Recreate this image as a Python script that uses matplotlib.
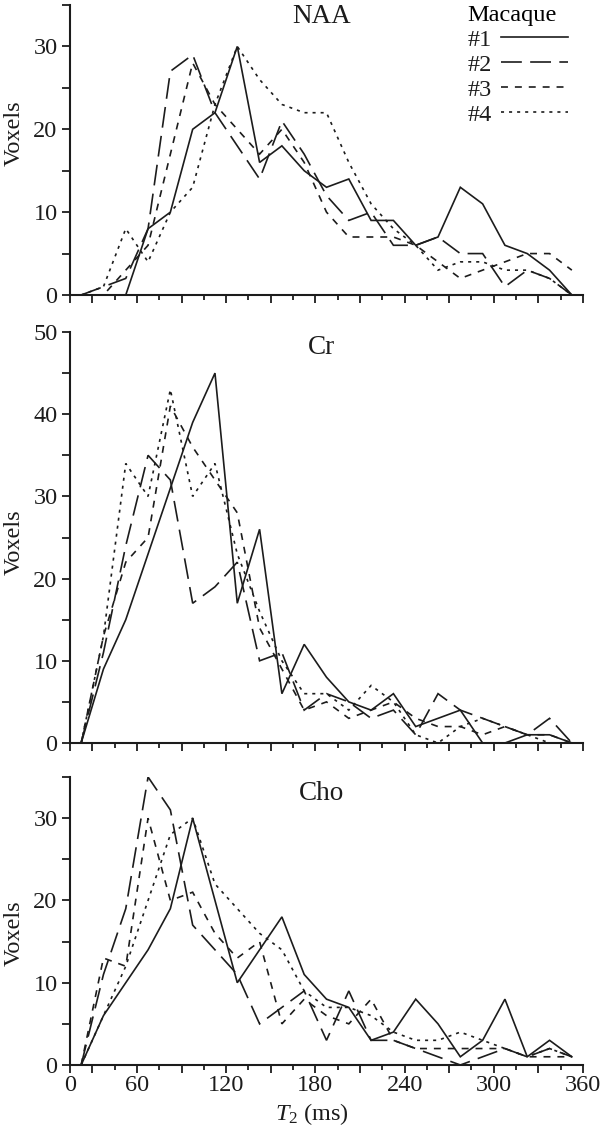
import matplotlib
matplotlib.use('Agg')
import matplotlib.pyplot as plt
from matplotlib.ticker import FixedLocator, MultipleLocator, FixedFormatter

plt.rcParams['font.family'] = ['Liberation Serif', 'DejaVu Serif']
plt.rcParams['mathtext.fontset'] = 'custom'
plt.rcParams['mathtext.rm'] = 'Liberation Serif'
plt.rcParams['mathtext.it'] = 'Liberation Serif:italic'
plt.rcParams['lines.scale_dashes'] = False

# bin centres (ms), axis origin sits at 15 ms
t2 = [22.5, 37.5, 52.5, 67.5, 82.5, 97.5, 112.5, 127.5, 142.5, 157.5, 172.5, 187.5,
      202.5, 217.5, 232.5, 247.5, 262.5, 277.5, 292.5, 307.5, 322.5, 337.5, 352.5]

naa_1 = [0, 0, 0, 8, 10, 20, 22, 30, 16, 18, 15, 13, 14, 9, 9, 6, 7, 13, 11, 6, 5, 3, 0]
naa_2 = [0, 1, 2, 8, 27, 29, 22, 18, 14, 21, 17, 12, 9, 10, 6, 6, 7, 5, 5, 1, 3, 2, 0]
naa_3 = [0, 0, 3, 6, 17, 28, 23, 20, 17, 20, 16, 10, 7, 7, 7, 6, 4, 2, 3, 4, 5, 5, 3]
naa_4 = [0, 1, 8, 4, 10, 13, 23, 30, 26, 23, 22, 22, 16, 11, 8, 6, 3, 4, 4, 3, 3, 2, 0]

cr_1 = [0, 9, 15, 23, 31, 39, 45, 17, 26, 6, 12, 8, 5, 4, 6, 2, 3, 4, 0, 0, 1, 1, 0]
cr_2 = [0, 11, 24, 35, 32, 17, 19, 22, 10, 11, 4, 6, 5, 3, 4, 1, 6, 4, 3, 2, 1, 3, 0]
cr_3 = [0, 13, 22, 25, 41, 36, 32, 28, 14, 9, 4, 5, 3, 4, 5, 3, 2, 2, 1, 2, 1, 1, 0]
cr_4 = [0, 13, 34, 30, 43, 30, 34, 23, 16, 10, 6, 6, 4, 7, 5, 1, 0, 2, 3, 2, 1, 0, 0]

cho_1 = [0, 6, 10, 14, 19, 30, 20, 10, 14, 18, 11, 8, 7, 3, 4, 8, 5, 1, 3, 8, 1, 3, 1]
cho_2 = [0, 11, 19, 35, 31, 17, 14, 11, 5, 7, 9, 3, 9, 3, 3, 2, 1, 0, 1, 2, 1, 2, 1]
cho_3 = [0, 13, 12, 30, 20, 21, 16, 13, 15, 5, 8, 6, 5, 8, 3, 2, 2, 2, 2, 2, 1, 1, 1]
cho_4 = [0, 6, 12, 20, 28, 30, 22, 19, 16, 14, 9, 7, 7, 6, 4, 3, 3, 4, 3, 2, 1, 2, 1]

labels = ['#1', '#2', '#3', '#4']
panels = [('NAA', [naa_1, naa_2, naa_3, naa_4], 35),
          ('Cr', [cr_1, cr_2, cr_3, cr_4], 50),
          ('Cho', [cho_1, cho_2, cho_3, cho_4], 35)]

line_styles = ['-', (0, (15, 6)), (0, (5, 5)), (0, (2.2, 3.6))]
ink = '#1c1c1c'

# axes boxes in pixels of a 600x1135 figure: (top, bottom)
boxes = [(5, 295), (332, 743), (777, 1065)]
W, H = 600, 1135
left, right = 70, 583
title_y = [0.959, 0.963, 0.944]

fig = plt.figure(figsize=(6, 11.35), dpi=100)

for i, (name, series, ytop) in enumerate(panels):
    top, bot = boxes[i]
    ax = fig.add_axes([left / W, (H - bot) / H, (right - left) / W, (bot - top) / H])
    for s, ls, lab in zip(series, line_styles, labels):
        ax.plot(t2, s, color=ink, lw=1.2, linestyle=ls, label=lab,
                solid_joinstyle='miter', dash_joinstyle='miter')

    ax.set_xlim(15, 360)
    ax.set_ylim(0, ytop)
    for side in ['top', 'right']:
        ax.spines[side].set_visible(False)
    for side in ['left', 'bottom']:
        ax.spines[side].set_linewidth(1.5)
        ax.spines[side].set_color(ink)

    ax.yaxis.set_major_locator(MultipleLocator(10))
    ax.yaxis.set_minor_locator(MultipleLocator(5))
    ax.tick_params(axis='y', which='both', direction='out', length=6, width=1.3,
                   colors=ink, labelsize=17.5, pad=3)

    xmaj = [15] + list(range(30, 361, 30))
    ax.xaxis.set_major_locator(FixedLocator(xmaj))
    ax.xaxis.set_minor_locator(FixedLocator(list(range(45, 360, 30))))
    ax.xaxis.set_major_formatter(FixedFormatter(
        ['0'] + [str(v) if v % 60 == 0 else '' for v in range(30, 361, 30)]))
    ax.tick_params(axis='x', which='major', direction='out', length=5.5, width=1.3,
                   colors=ink, labelsize=17.5, pad=2)
    ax.tick_params(axis='x', which='minor', direction='out', length=3.5, width=1.3,
                   colors=ink)
    if i < 2:
        ax.tick_params(axis='x', labelbottom=False)

    ax.text(0.49, title_y[i], name, transform=ax.transAxes, ha='center', va='center',
            fontsize=19.5, color=ink)

    fig.text(14 / W, 1 - [133, 542, 933][i] / H, 'Voxels', rotation=90,
             ha='center', va='center', fontsize=17.5, color=ink)

    if i == 0:
        ax.legend(title='Macaque', loc='upper right', bbox_to_anchor=(0.971, 1.0),
                  markerfirst=False, frameon=False, fontsize=17.5, title_fontsize=17.5,
                  handlelength=2.75, handletextpad=0.4, labelspacing=0.12,
                  borderpad=0, borderaxespad=0, alignment='left', labelcolor=ink)

fig.text(312 / W, 1 - 1114 / H, r'$T_2$ (ms)', ha='center', va='center',
         fontsize=17.5, color=ink)

fig.savefig('out.png', dpi=100, facecolor='white')
